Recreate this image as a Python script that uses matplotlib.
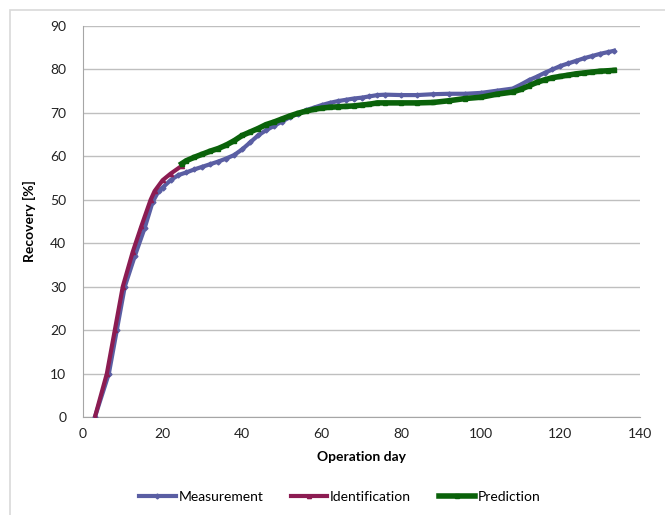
import matplotlib.pyplot as plt
from matplotlib.patches import Rectangle

# Measurement series (operation day, recovery %)
meas_day = [3, 6.5, 8.5, 10.5, 13, 15.5, 17.5, 19, 20, 22, 24, 26, 28, 30, 32, 34, 36, 38,
            40, 42, 44, 46, 48, 50, 52, 54, 56, 58, 60, 62, 64, 66, 68, 70, 72, 74, 76,
            80, 84, 88, 92, 96, 100, 104, 108, 110, 112, 114, 116, 118, 120, 122, 124,
            126, 128, 130, 132, 133.5]
meas_rec = [0, 10, 20, 30, 37, 43.5, 49.5, 52, 52.8, 54.5, 55.7, 56.3, 57, 57.6, 58.2, 58.8,
            59.5, 60.3, 61.6, 63.2, 64.8, 66, 67, 68, 69, 69.8, 70.6, 71.2, 71.8, 72.3, 72.7,
            73, 73.3, 73.5, 73.8, 74.1, 74.2, 74.1, 74.1, 74.3, 74.4, 74.4, 74.6, 75.1, 75.6,
            76.5, 77.5, 78.3, 79.2, 80, 80.8, 81.4, 82, 82.6, 83.1, 83.6, 84, 84.3]

# Identification series
ident_day = [3, 6, 8, 10, 12.5, 14.7, 17, 18, 20, 22, 24.8]
ident_rec = [0, 10, 20, 30, 38, 44, 50, 52, 54.5, 56, 57.8]

# Prediction series
pred_day = [24.8, 26, 28, 30, 32, 34, 36, 38, 40, 42, 44, 46, 48, 50, 52, 54, 56, 58, 60,
            62, 64, 66, 68, 70, 72, 74, 76, 80, 84, 88, 92, 96, 100, 104, 108, 110, 112,
            114, 116, 118, 120, 122, 124, 126, 128, 130, 132, 133.5]
pred_rec = [58.3, 59, 59.8, 60.5, 61.2, 61.8, 62.6, 63.6, 64.8, 65.6, 66.4, 67.3, 67.9, 68.6,
            69.3, 69.9, 70.4, 70.8, 71.1, 71.3, 71.4, 71.5, 71.6, 71.8, 72, 72.3, 72.3, 72.3,
            72.3, 72.4, 72.8, 73.3, 73.6, 74.3, 74.8, 75.4, 76.2, 77, 77.6, 78.1, 78.4, 78.7,
            79, 79.2, 79.4, 79.6, 79.7, 79.8]

x_ticks = [0, 20, 40, 60, 80, 100, 120, 140]
y_ticks = [0, 10, 20, 30, 40, 50, 60, 70, 80, 90]

plt.rcParams['font.family'] = ['Lato', 'DejaVu Sans']

fig = plt.figure(figsize=(6.65, 5.15), dpi=100)
ax = fig.add_axes([83 / 665, 1 - 417 / 515, (640 - 83) / 665, (417 - 26) / 515])

# light outer frame like the original chart area
fig.patches.append(Rectangle((10 / 665, -0.05), 1.0, 1 - 10 / 515 + 0.05,
                             transform=fig.transFigure, fill=False,
                             edgecolor='#d9d9d9', linewidth=1.2))

ax.plot(meas_day, meas_rec, color='#5a5ea3', linewidth=3, marker='D',
        markersize=2.5, label='Measurement', zorder=3)
ax.plot(ident_day, ident_rec, color='#8c1c52', linewidth=3, marker='^',
        markersize=3, label='Identification', zorder=4)
ax.plot(pred_day, pred_rec, color='#0a620a', linewidth=4, marker='s',
        markersize=3, label='Prediction', zorder=5)

ax.set_xlim(0, 140)
ax.set_ylim(0, 90)
ax.set_xticks(x_ticks)
ax.set_yticks(y_ticks)
ax.tick_params(length=0, labelsize=10, colors='#222222')
ax.tick_params(axis='y', pad=12)
ax.tick_params(axis='x', pad=8)
ax.grid(axis='y', color='#bfbfbf', linewidth=1)
ax.set_axisbelow(True)
for s in ['top', 'right']:
    ax.spines[s].set_visible(False)
for s in ['left', 'bottom']:
    ax.spines[s].set_color('#a6a6a6')

ax.set_xlabel('Operation day', fontsize=10, fontweight='bold', labelpad=8)
ax.set_ylabel('Recovery [%]', fontsize=10, fontweight='bold', labelpad=10)

fig.legend(loc='center', bbox_to_anchor=(0.511, 1 - 497 / 515), ncol=3,
           frameon=False, fontsize=10, handlelength=2.6, handletextpad=0.2,
           columnspacing=2.0)

fig.savefig('out.png', dpi=100)
